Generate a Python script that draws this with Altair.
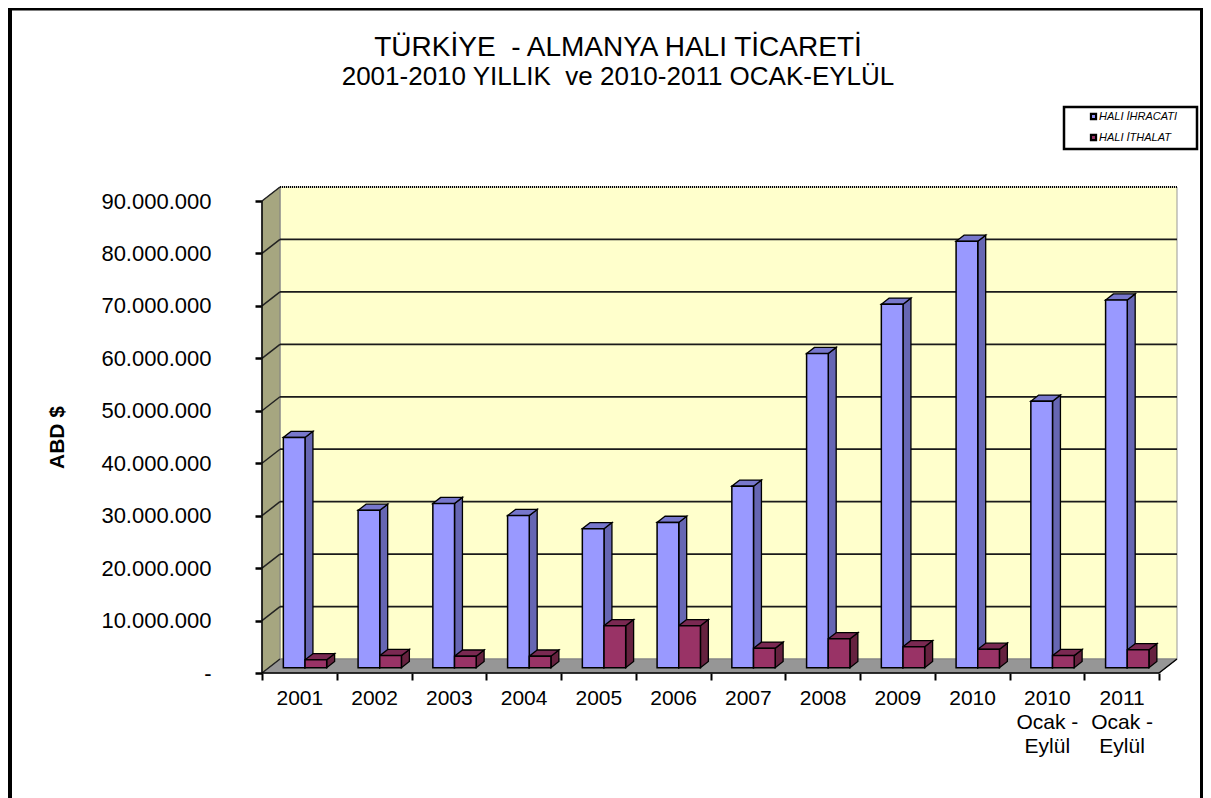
import json
import altair as alt
import pandas as pd

categories = ["2001", "2002", "2003", "2004", "2005", "2006", "2007", "2008", "2009", "2010",
              ["2010", "Ocak -", "Eylül"], ["2011", "Ocak -", "Eylül"]]
series_names = ["HALI İHRACATI", "HALI İTHALAT"]
title_lines = ["TÜRKİYE \u00a0- ALMANYA HALI TİCARETİ", "2001-2010 YILLIK \u00a0ve 2010-2011 OCAK-EYLÜL"]
ihracat = [43.9e6, 30.0e6, 31.3e6, 29.0e6, 26.5e6, 27.7e6, 34.6e6, 59.9e6, 69.3e6, 81.3e6, 50.8e6, 70.1e6]
ithalat = [1.5e6, 2.3e6, 2.2e6, 2.2e6, 8.0e6, 8.0e6, 3.7e6, 5.5e6, 4.0e6, 3.5e6, 2.3e6, 3.4e6]
y_ticks = [i * 10_000_000 for i in range(10)]

front_colors = ["#9999FF", "#993366"]
side_colors = ["#6666B3", "#66223F"]
top_colors = ["#7777CC", "#7A2952"]

FONT = "Liberation Sans"
N = len(categories)
DX = 18 / 74.75       # depth of the box, category units
DY = 2.67e6           # depth of the box, value units
T0, T1 = 0.38, 0.82   # bar depth inside the box
GAP, BW = 0.194, 0.29

xscale = alt.Scale(domain=[0, N + DX], nice=False, zero=False)
yscale = alt.Scale(domain=[0, 90e6 + DY], nice=False, zero=False)
X = lambda f="x", **k: alt.X(f"{f}:Q", scale=xscale, axis=None, title=None, **k)
Y = lambda f="y", **k: alt.Y(f"{f}:Q", scale=yscale, axis=None, title=None, stack=None, **k)

fronts, sides, tops = [], [], []
for i in range(N):
    for s, vals in enumerate([ihracat, ithalat]):
        v = vals[i]
        x0 = i + GAP + s * BW + T0 * DX
        x1 = x0 + BW
        b0 = T0 * DY
        b1 = T1 * DY
        d = (T1 - T0)
        key = f"{i}-{s}"
        fronts.append(dict(x=x0, x2=x1, y=b0 + v, y2=b0, series=series_names[s]))
        sides += [dict(k=key, fill=side_colors[s], x=x1, y=b0 + v, y2=b0),
                  dict(k=key, fill=side_colors[s], x=x1 + d * DX, y=b1 + v, y2=b1)]
        tops += [dict(k=key, fill=top_colors[s], y=b0 + v, x=x0, x2=x1),
                 dict(k=key, fill=top_colors[s], y=b1 + v, x=x0 + d * DX, x2=x1 + d * DX)]

grid = pd.DataFrame({"y": [v + DY for v in y_ticks if 0 < v < 90e6]})
wall_top = pd.DataFrame({"y": [90e6 + DY], "x": [DX], "x2": [N + DX]})
diag = pd.DataFrame([dict(k=v, x=t * DX, y=v + t * DY) for v in y_ticks for t in (0, 1)])
left_wall = pd.DataFrame([dict(x=0, y=90e6, y2=0), dict(x=DX, y=90e6 + DY, y2=DY)])
floor = pd.DataFrame([dict(y=0, x=0, x2=N), dict(y=DY, x=DX, x2=N + DX)])
right_edge = pd.DataFrame([dict(x=N, y=0), dict(x=N + DX, y=DY)])
y_line = pd.DataFrame({"x": [0], "y": [0], "y2": [90e6]})
x_line = pd.DataFrame({"x": [0], "x2": [N], "y": [0]})

back_wall = alt.Chart(pd.DataFrame([dict(x=DX, x2=N + DX, y=DY, y2=90e6 + DY)])).mark_rect(
    fill="#FFFFCC", stroke="#999999", strokeWidth=1
).encode(x=X(), x2="x2:Q", y=Y(), y2="y2:Q")
wall_l = alt.Chart(left_wall).mark_area(fill="#A6A680", stroke="#808080", strokeWidth=1).encode(
    x=X(), y=Y(), y2="y2:Q")
floor_l = alt.Chart(floor).mark_area(orient="horizontal", fill="#969696", stroke="#808080", strokeWidth=1).encode(
    y=Y(), x=X(), x2="x2:Q")
grid_l = alt.Chart(grid).mark_rule(color="#1A1A1A", strokeWidth=1.7).encode(
    y=Y(), x=alt.value(18), x2=alt.value(915))
top_l2 = alt.Chart(wall_top).mark_rule(color="#000000", strokeWidth=2, strokeDash=[1, 1]).encode(
    y=Y(), x=X(), x2="x2:Q")
diag_l = alt.Chart(diag).mark_line(color="#222222", strokeWidth=1.5, clip=False).encode(
    x=X(), y=Y(), detail="k:N")
right_l = alt.Chart(right_edge).mark_line(color="#000000", strokeWidth=1.5).encode(x=X(), y=Y())
y_line_l = alt.Chart(y_line).mark_rule(color="#000000", strokeWidth=1.5).encode(x=X(), y=Y(), y2="y2:Q")
x_line_l = alt.Chart(x_line).mark_rule(color="#000000", strokeWidth=1.5).encode(y=Y(), x=X(), x2="x2:Q")

side_l = alt.Chart(pd.DataFrame(sides)).mark_area(stroke="#000000", strokeWidth=1.3).encode(
    x=X(), y=Y(), y2="y2:Q", detail="k:N", fill=alt.Fill("fill:N", scale=None))
top_l = alt.Chart(pd.DataFrame(tops)).mark_area(orient="horizontal", stroke="#000000", strokeWidth=1.3).encode(
    y=Y(), x=X(), x2="x2:Q", detail="k:N", fill=alt.Fill("fill:N", scale=None))
front_l = alt.Chart(pd.DataFrame(fronts)).mark_rect(stroke="#000000", strokeWidth=1.5).encode(
    x=X(), x2="x2:Q", y=Y(), y2="y2:Q",
    color=alt.Color("series:N", scale=alt.Scale(domain=series_names, range=front_colors),
                    legend=alt.Legend(title=None, orient="none", legendX=826, legendY=-76,
                                      symbolType="square", symbolSize=26,
                                      symbolStrokeColor="#000000", symbolStrokeWidth=2.2,
                                      labelFont=FONT, labelFontSize=11, labelFontStyle="italic",
                                      labelColor="#000000", labelOffset=0, rowPadding=6,
                                      padding=0)))

# axes
y_expr = ("datum.value == 0 ? '-\u00a0\u00a0\u00a0' : "
          "replace(format(datum.value, ','), regexp(',', 'g'), '.')")
y_axis_l = alt.Chart(pd.DataFrame({"y": y_ticks})).mark_point(opacity=0).encode(
    y=alt.Y("y:Q", scale=yscale, title="ABD $",
            axis=alt.Axis(orient="left", values=y_ticks, grid=False, labelExpr=y_expr, labelFont=FONT,
                          labelFontSize=22, labelColor="#000000", labelPadding=44, tickSize=7,
                          tickWidth=2.5, tickColor="#000000", domain=False,
                          titleFont=FONT, titleFontSize=21, titleFontWeight="bold",
                          titleColor="#000000", titleX=-195, titleY=250, titleAngle=270,
                          labelOverlap=False)))
tick_axis_l = alt.Chart(pd.DataFrame({"x": list(range(N + 1))})).mark_point(opacity=0).encode(
    x=alt.X("x:Q", scale=xscale, title=None,
            axis=alt.Axis(orient="bottom", values=list(range(N + 1)), labels=False, grid=False,
                          tickSize=7, tickWidth=2, tickColor="#000000", domain=False)))
cat_expr = json.dumps(categories, ensure_ascii=False) + "[floor(datum.value)]"
cat_axis_l = alt.Chart(pd.DataFrame({"x": [i + 0.5 for i in range(N)]})).mark_point(opacity=0).encode(
    x=alt.X("x:Q", scale=xscale, title=None,
            axis=alt.Axis(orient="bottom", values=[i + 0.5 for i in range(N)], ticks=False, domain=False,
                          grid=False, labelExpr=cat_expr, labelFont=FONT, labelFontSize=21,
                          labelColor="#000000", labelPadding=14, labelLineHeight=24,
                          labelOverlap=False, labelBound=False, labelFlush=False)))

# page frame, legend box and heading
one = pd.DataFrame({"k": [0]})
frame_l = alt.Chart(one).mark_rule(color="#000000", strokeWidth=4).encode(
    x=alt.value(-252), y=alt.value(-179), y2=alt.value(611))
frame_t = alt.Chart(one).mark_rule(color="#000000", strokeWidth=3).encode(
    y=alt.value(-178), x=alt.value(-254), x2=alt.value(941))
frame_r = alt.Chart(one).mark_rule(color="#000000", strokeWidth=3).encode(
    x=alt.value(939.5), y=alt.value(-179), y2=alt.value(611))
legend_box = alt.Chart(one).mark_rect(fill="#FFFFFF", stroke="#000000", strokeWidth=2.5).encode(
    x=alt.value(802), x2=alt.value(935), y=alt.value(-80), y2=alt.value(-38))
title_a = alt.Chart(pd.DataFrame({"t": title_lines[:1]})).mark_text(
    font=FONT, fontSize=28, color="#000000", align="center", baseline="alphabetic", clip=False
).encode(text="t:N", x=alt.value(356), y=alt.value(-131))
title_b = alt.Chart(pd.DataFrame({"t": title_lines[1:]})).mark_text(
    font=FONT, fontSize=26, color="#000000", align="center", baseline="alphabetic", clip=False
).encode(text="t:N", x=alt.value(356), y=alt.value(-102))

chart = alt.layer(
    frame_l, frame_t, frame_r, legend_box, title_a, title_b,
    back_wall, wall_l, floor_l, grid_l, top_l2, diag_l, right_l, y_line_l, x_line_l,
    y_axis_l, tick_axis_l, cat_axis_l,
    side_l, top_l, front_l,
).resolve_axis(x="independent", y="independent").properties(
    width=915, height=486,
    padding={"left": 254, "top": 179, "right": 26, "bottom": 125},
    autosize=alt.AutoSizeParams(type="none"),
    background="#FFFFFF",
).configure_view(stroke=None)

chart.save("out.html", embed_options={"renderer": "svg", "actions": False})
